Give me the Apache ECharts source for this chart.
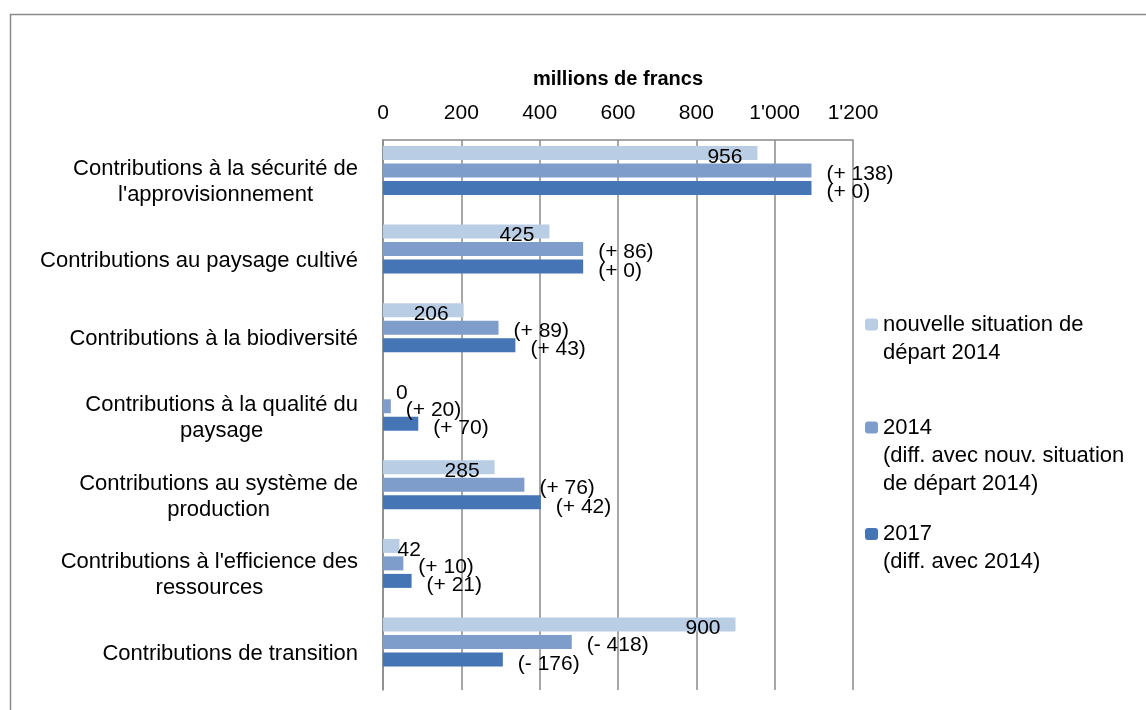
<!DOCTYPE html>
<html>
<head>
<meta charset="utf-8">
<script src="https://cdn.jsdelivr.net/npm/echarts@6/dist/echarts.min.js"></script>
<style>
  html, body { margin: 0; padding: 0; background: #fff; }
  #chart { width: 1146px; height: 710px; }
</style>
</head>
<body>
<div id="chart"></div>
<script>
const categories = [
  'Contributions à la sécurité de\nl\'approvisionnement',
  'Contributions au paysage cultivé',
  'Contributions à la biodiversité',
  'Contributions à la qualité du\npaysage',
  'Contributions au système de\nproduction',
  'Contributions à l\'efficience des\nressources',
  'Contributions de transition'
]
const seriesNames = [
  'nouvelle situation de\ndépart 2014',
  '2014\n(diff. avec nouv. situation\nde départ 2014)',
  '2017\n(diff. avec 2014)'
]
// millions de francs
const baseValues = [956, 425, 206, 0, 285, 42, 900]
const values2014 = [1094, 511, 295, 20, 361, 52, 482]
const values2017 = [1094, 511, 338, 90, 403, 73, 306]
// differences shown as labels
const diff2014 = [138, 86, 89, 20, 76, 10, -418]
const diff2017 = [0, 0, 43, 70, 42, 21, -176]
const xTicks = [0, 200, 400, 600, 800, 1000, 1200]

const font = 'Liberation Sans'
const gridColor = '#8a8a8a'
const colors = ['#B9CDE5', '#7E9DCA', '#4575B4']
// labels of very short bars sit outside the bar (distance from bar end)
const outsideLabel = { 3: 13, 5: -2 }
const legendLine = 28

const chart = echarts.init(document.getElementById('chart'))

function thousands(v) {
  return String(v).replace(/\B(?=(\d{3})+(?!\d))/g, '\'')
}

function diffText(d) {
  return d < 0 ? '(- ' + Math.abs(d) + ')' : '(+ ' + d + ')'
}

// one legend per series so the marker sits on the first text line
function legendFor(name, markerY) {
  const lines = name.split('\n').length
  return {
    data: [name],
    left: 865,
    top: markerY - (2 * lines - 1) * legendLine / 2,
    padding: 0,
    itemWidth: 13,
    itemHeight: 12,
    selectedMode: false,
    formatter: n => '\n'.repeat(lines - 1) + n,
    textStyle: { fontFamily: font, fontSize: 22, lineHeight: legendLine, color: '#000' }
  }
}

const labelFont = { fontFamily: font, fontSize: 21, color: '#000' }
const barCommon = { type: 'bar', barWidth: 14, barGap: '25%', animation: false }

chart.setOption({
  animation: false,
  graphic: [{
    type: 'rect',
    silent: true,
    z: -10,
    shape: { x: 10.5, y: 14.5, width: 1300, height: 900 },
    style: { fill: 'none', stroke: '#8a8a8a', lineWidth: 1.5 }
  }],
  grid: { left: 383, top: 140, right: 293, bottom: 20 },
  legend: [
    legendFor(seriesNames[0], 324.5),
    legendFor(seriesNames[1], 427.5),
    legendFor(seriesNames[2], 534)
  ],
  xAxis: {
    type: 'value',
    position: 'top',
    min: xTicks[0],
    max: xTicks[xTicks.length - 1],
    interval: xTicks[1] - xTicks[0],
    name: 'millions de francs',
    nameLocation: 'middle',
    nameGap: 51,
    nameTextStyle: { fontFamily: font, fontSize: 20, fontWeight: 'bold', color: '#000' },
    axisLine: { show: true, lineStyle: { color: gridColor, width: 1.5 } },
    axisTick: { show: false },
    axisLabel: { margin: 16, fontFamily: font, fontSize: 21, color: '#000', formatter: thousands },
    splitLine: { show: true, lineStyle: { color: gridColor, width: 1.5 } }
  },
  yAxis: {
    type: 'category',
    inverse: true,
    data: categories,
    axisLine: { show: true, lineStyle: { color: gridColor, width: 1.5 } },
    axisTick: { show: false },
    axisLabel: {
      interval: 0,
      margin: 25,
      padding: [6, 0, 0, 0],
      fontFamily: font,
      fontSize: 22,
      lineHeight: 26,
      color: '#000',
      formatter: v => v.split('\n').map(s => '{c|' + s + '}').join('\n'),
      rich: { c: { align: 'center', fontFamily: font, fontSize: 22, lineHeight: 26, color: '#000' } }
    }
  },
  series: [
    {
      ...barCommon,
      name: seriesNames[0],
      itemStyle: { color: colors[0] },
      label: { show: true, position: 'insideRight', distance: 15, offset: [0, 4], ...labelFont },
      data: baseValues.map((v, i) => i in outsideLabel
        ? { value: v, label: { position: 'right', distance: outsideLabel[i] } }
        : v)
    },
    {
      ...barCommon,
      name: seriesNames[1],
      itemStyle: { color: colors[1] },
      label: {
        show: true, position: 'right', distance: 15, offset: [0, 3.5], ...labelFont,
        formatter: p => diffText(diff2014[p.dataIndex])
      },
      data: values2014
    },
    {
      ...barCommon,
      name: seriesNames[2],
      itemStyle: { color: colors[2] },
      label: {
        show: true, position: 'right', distance: 15, offset: [0, 4.5], ...labelFont,
        formatter: p => diffText(diff2017[p.dataIndex])
      },
      data: values2017
    },
    // empty fourth slot, as in the original the bars sit above the category centre
    { ...barCommon, name: 'slot', data: [] }
  ]
})
</script>
</body>
</html>
